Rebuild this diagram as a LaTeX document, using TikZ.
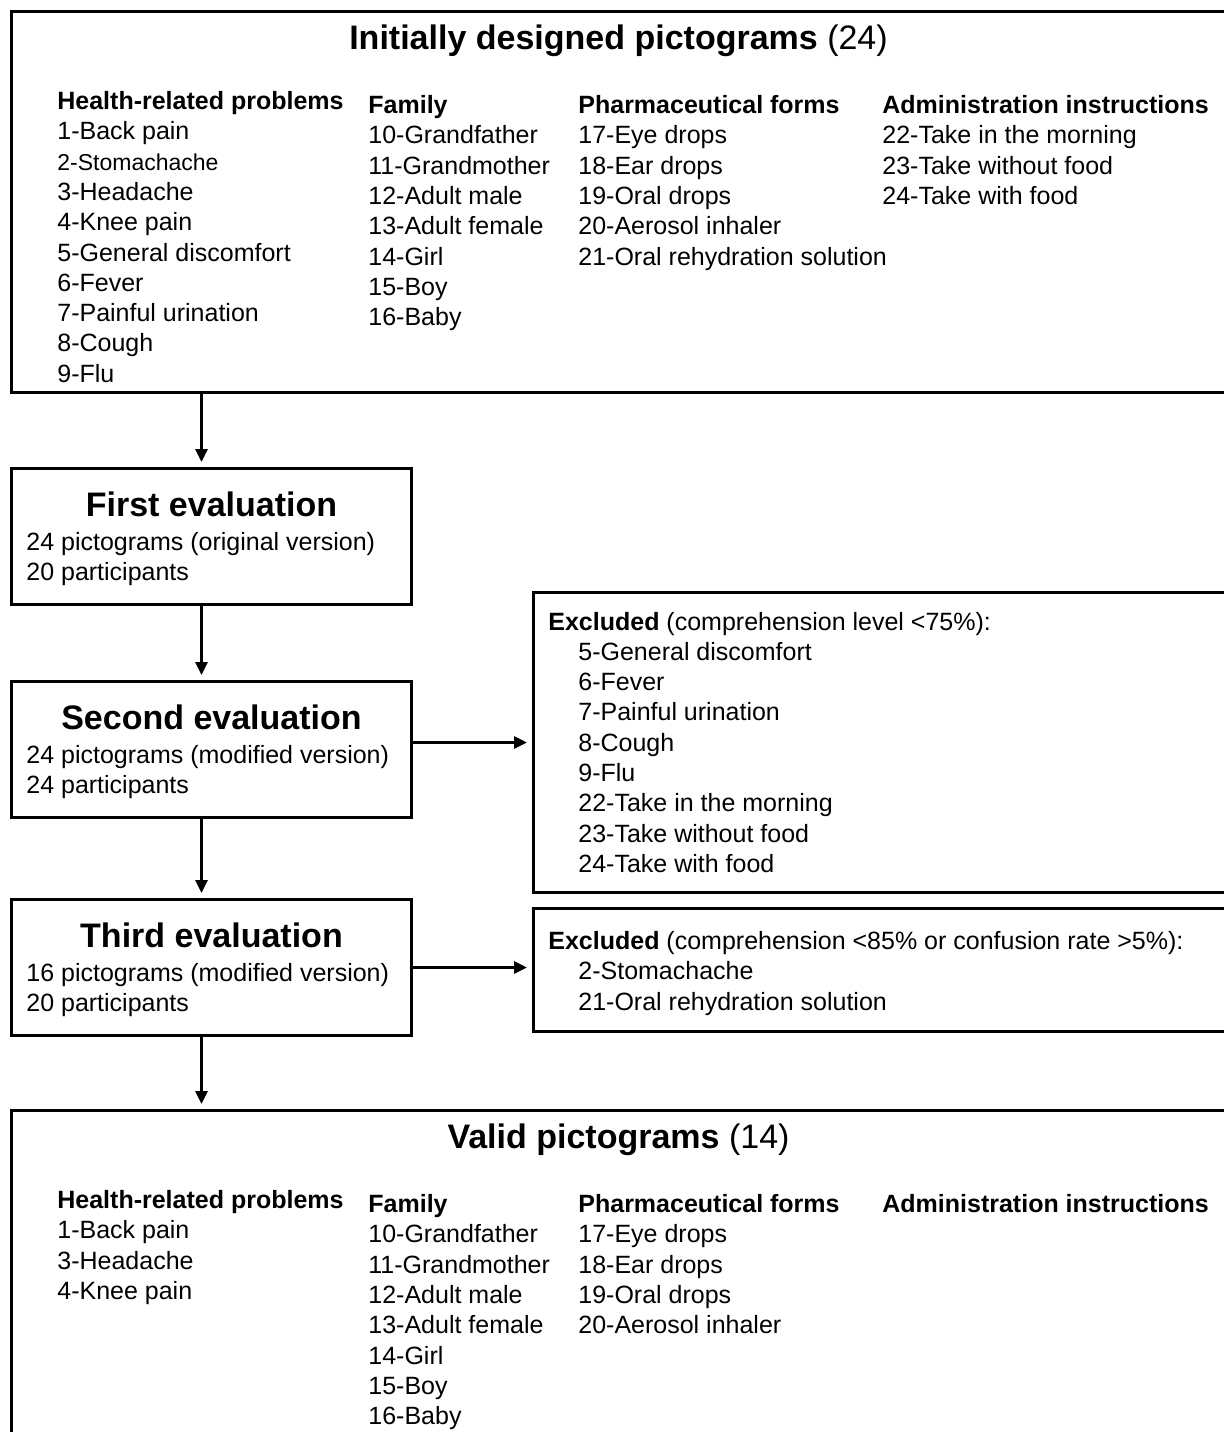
\documentclass[tikz,border=0pt]{standalone}
\usepackage{fontspec}
\setmainfont{Liberation Sans}
\usetikzlibrary{arrows.meta, positioning}

\newcommand\exind{\hspace*{15pt}}

\begin{document}
\begin{tikzpicture}[
    x=0.5pt, y=-0.5pt,
    every node/.style={font=\fontsize{12.5}{15.15}\selectfont},
    frame/.style={draw, line width=1.5pt, inner sep=0pt, anchor=north west},
    title/.style={font=\fontsize{17}{20}\selectfont, anchor=base, inner sep=0pt},
    evaltitle/.style={font=\fontsize{17}{20}\selectfont\bfseries, anchor=base, inner sep=0pt},
    list/.style={align=left, inner sep=0pt},
    arrow/.style={-{Triangle[length=6.5pt, width=6pt]}, line width=1.5pt, shorten >=2.5pt}
]
\useasboundingbox (0,0) rectangle (1223,1432);

% initial set
\node[frame, minimum width=620pt, minimum height=190.5pt] (initial) at (10,10) {};
\node[title] (initialtitle) at ([xshift=304.25pt, yshift=-19.5pt]initial.north west)
    {\textbf{Initially designed pictograms} (24)};
\node[list, below right=40.5pt and 23.5pt of initial.north west] (initialhealth)
    {\textbf{Health-related problems}\\1-Back pain\\{\fontsize{11.5}{15.15}\selectfont 2-Stomachache}\\3-Headache\\
     4-Knee pain\\5-General discomfort\\6-Fever\\7-Painful urination\\8-Cough\\9-Flu};
\node[list, below right=42.5pt and 179pt of initial.north west] (initialfamily)
    {\textbf{Family}\\10-Grandfather\\11-Grandmother\\12-Adult male\\13-Adult female\\14-Girl\\15-Boy\\16-Baby};
\node[list, below right=42.5pt and 284pt of initial.north west] (initialforms)
    {\textbf{Pharmaceutical forms}\\17-Eye drops\\18-Ear drops\\19-Oral drops\\20-Aerosol inhaler\\21-Oral rehydration solution};
\node[list, below right=42.5pt and 436pt of initial.north west] (initialadmin)
    {\textbf{Administration instructions}\\22-Take in the morning\\23-Take without food\\24-Take with food};

% evaluation rounds
\node[frame, minimum width=200pt, minimum height=68pt] (first) at (10,467) {};
\node[evaltitle] (firsttitle) at ([yshift=-24.5pt]first.north) {First evaluation};
\node[list, below right=32.5pt and 8pt of first.north west] (firstinfo)
    {24 pictograms (original version)\\20 participants};

\node[frame, minimum width=200pt, minimum height=68pt] (second) at (10,680) {};
\node[evaltitle] (secondtitle) at ([yshift=-24.5pt]second.north) {Second evaluation};
\node[list, below right=32.5pt and 8pt of second.north west] (secondinfo)
    {24 pictograms (modified version)\\24 participants};

\node[frame, minimum width=200pt, minimum height=68pt] (third) at (10,898) {};
\node[evaltitle] (thirdtitle) at ([yshift=-24.5pt]third.north) {Third evaluation};
\node[list, below right=32.5pt and 8pt of third.north west] (thirdinfo)
    {16 pictograms (modified version)\\20 participants};

% exclusions
\node[frame, minimum width=350pt, minimum height=150pt] (exclA) at (532,591) {};
\node[list, below right=10.25pt and 8pt of exclA.north west] (exclAlist)
    {\textbf{Excluded} (comprehension level <75\%):\\\exind 5-General discomfort\\\exind 6-Fever\\
     \exind 7-Painful urination\\\exind 8-Cough\\\exind 9-Flu\\\exind 22-Take in the morning\\
     \exind 23-Take without food\\\exind 24-Take with food};

\node[frame, minimum width=350pt, minimum height=61.5pt] (exclB) at (532,907) {};
\node[list, below right=12pt and 8pt of exclB.north west] (exclBlist)
    {\textbf{Excluded} (comprehension <85\% or confusion rate >5\%):\\\exind 2-Stomachache\\
     \exind 21-Oral rehydration solution};

% final set
\node[frame, minimum width=620pt, minimum height=200pt] (valid) at (10,1109) {};
\node[title] (validtitle) at ([xshift=304.25pt, yshift=-19.5pt]valid.north west)
    {\textbf{Valid pictograms} (14)};
\node[list, below right=40.5pt and 23.5pt of valid.north west] (validhealth)
    {\textbf{Health-related problems}\\1-Back pain\\3-Headache\\4-Knee pain};
\node[list, below right=42.5pt and 179pt of valid.north west] (validfamily)
    {\textbf{Family}\\10-Grandfather\\11-Grandmother\\12-Adult male\\13-Adult female\\14-Girl\\15-Boy\\16-Baby};
\node[list, below right=42.5pt and 284pt of valid.north west] (validforms)
    {\textbf{Pharmaceutical forms}\\17-Eye drops\\18-Ear drops\\19-Oral drops\\20-Aerosol inhaler};
\node[list, below right=42.5pt and 436pt of valid.north west] (validadmin)
    {\textbf{Administration instructions}};

% flow
\draw[arrow] ([xshift=-5pt]first.north |- initial.south) -- ([xshift=-5pt]first.north);
\draw[arrow] ([xshift=-5pt]first.south) -- ([xshift=-5pt]second.north);
\draw[arrow] ([xshift=-5pt]second.south) -- ([xshift=-5pt]third.north);
\draw[arrow] ([xshift=-5pt]third.south) -- ([xshift=-5pt]third.south |- valid.north);
\draw[arrow] (second.east |- exclA.west) -- (exclA.west);
\draw[arrow] (third.east) -- (third.east -| exclB.west);
\end{tikzpicture}
\end{document}
